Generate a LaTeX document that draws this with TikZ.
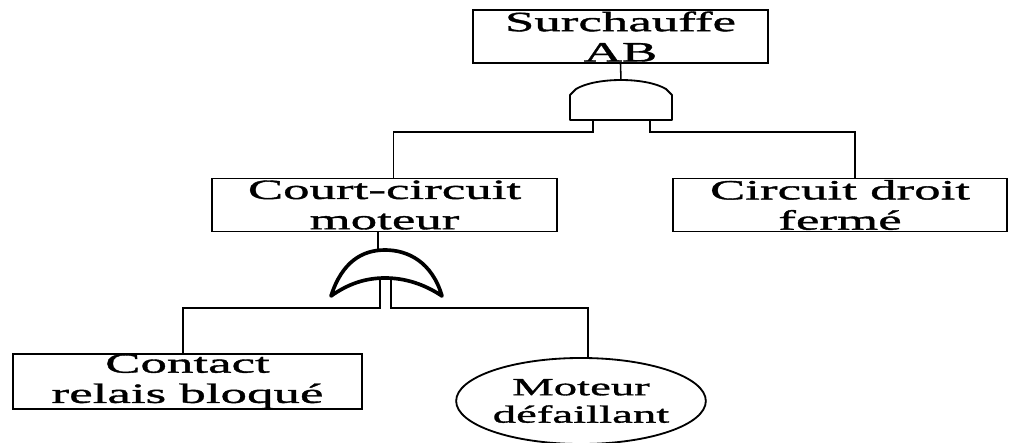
\documentclass[tikz,border=0pt]{standalone}
\usepackage{fontspec}
\setmainfont[FakeStretch=1.9,FakeBold=1.3]{Liberation Serif}
\usepackage{tikz}
\usetikzlibrary{shapes}
\usetikzlibrary{shapes.geometric}
\tikzset{
    evtbox/.style = {rectangle, draw=black, line width=1.3pt, minimum height=1.325cm, inner xsep=0pt, inner ysep=0pt, align=center, font=\fontsize{19.8pt}{21.5pt}\selectfont},
    basicev/.style = {ellipse, draw=black, line width=1.3pt, inner sep=0pt, align=center, minimum width=5.425cm, minimum height=2.15cm, font=\fontsize{17.5pt}{19.5pt}\selectfont},
    wire/.style = {line width=1.1pt},
    andgate/.style = {line width=1.3pt, line join=round},
    orgate/.style = {line width=2.6pt, line cap=round, line join=round}, % thick arcs
}
\begin{document}
\begin{tikzpicture}[x=0.025cm, y=-0.025cm]
\useasboundingbox (0,0) rectangle (1009,442);
% events
\node[evtbox, minimum width=7.375cm] at (620.5, 36.5) (top) {Surchauffe\\AB};
\node[evtbox, minimum width=8.625cm] at (384.5, 205) (court) {Court-circuit\\moteur};
\node[evtbox, minimum width=8.35cm] at (840, 205) (circuit) {Circuit droit\\fermé};
\node[evtbox, minimum width=8.725cm] at (187.5, 381.5) (contact) {Contact\\relais bloqué};
\node[basicev] at (581, 401) (moteur) {Moteur\\défaillant};
% gate ends
\coordinate (andout) at (621, 80);
\coordinate (andin1) at (593, 120);
\coordinate (andin2) at (650, 120);
\coordinate (orout) at (378, 250);
\coordinate (orin1) at (380, 280);
\coordinate (orin2) at (391, 280);
% gates
\draw[andgate] (570,120) -- (570,95) -- (576,89) .. controls (596,77) and (646,77) .. (666,89) -- (672,95) -- (672,120) -- cycle;
\draw[orgate] (331,296) .. controls (342,262) and (362,250) .. (385,250) .. controls (408,250) and (432,262) .. (442,296) .. controls (424,284) and (405,278) .. (385,278) .. controls (365,278) and (348,284) .. cycle;
% connectors
\draw[wire] (top.south) -- (andout);
\draw[wire] (andin1) -- ++(0,12) -| ([xshift=0.22cm]court.north);
\draw[wire] (andin2) -- ++(0,12) -| ([xshift=0.37cm]circuit.north);
\draw[wire] (court.south -| orout) -- (orout);
\draw[wire] (orin1) -- ++(0,28) -| ([xshift=-0.11cm]contact.north);
\draw[wire] (orin2) -- ++(0,28) -| ([xshift=0.17cm]moteur.north);
\end{tikzpicture}
\end{document}
